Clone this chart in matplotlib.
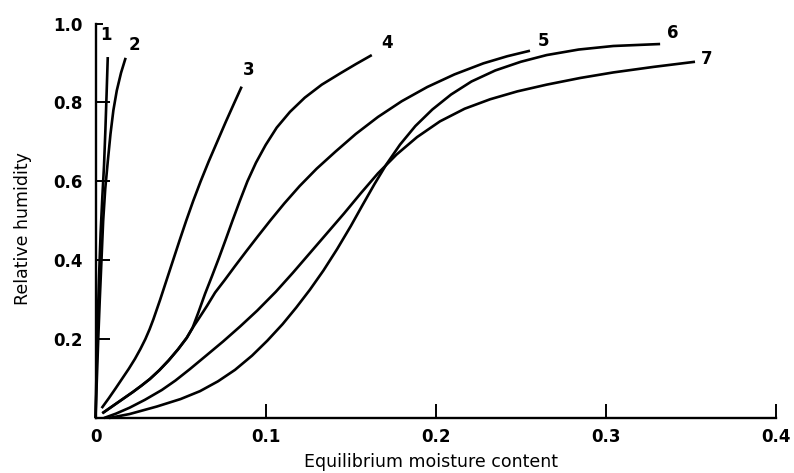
import matplotlib
matplotlib.use("Agg")
import matplotlib.pyplot as plt

# ---- data (equilibrium moisture content, relative humidity) ----
c1_x = [0.0, 0.0010, 0.0020, 0.0030, 0.0040, 0.0050, 0.0058, 0.0065, 0.0072]
c1_y = [0.0, 0.20, 0.35, 0.47, 0.56, 0.64, 0.73, 0.82, 0.915]

c2_x = [0.0, 0.0008, 0.0016, 0.0025, 0.0035, 0.0045, 0.0057, 0.0072, 0.0088,
        0.0105, 0.0125, 0.0150, 0.0177]
c2_y = [0.0, 0.10, 0.20, 0.30, 0.40, 0.50, 0.58, 0.65, 0.72,
        0.78, 0.83, 0.875, 0.913]

c3_x = [0.0036, 0.0078, 0.0118, 0.0157, 0.0196, 0.0232, 0.0264, 0.0293, 0.0318,
        0.0340, 0.0360, 0.0380, 0.0418, 0.0456, 0.0494, 0.0533, 0.0574, 0.0618,
        0.0665, 0.0715, 0.0765, 0.0817, 0.0859]
c3_y = [0.025, 0.050, 0.075, 0.100, 0.125, 0.150, 0.175, 0.200, 0.225,
        0.250, 0.275, 0.300, 0.350, 0.400, 0.450, 0.500, 0.550, 0.600,
        0.650, 0.700, 0.750, 0.800, 0.840]

c4_x = [0.0040, 0.0080, 0.0120, 0.0170, 0.0220, 0.0270, 0.0320, 0.0375, 0.0430,
        0.0485, 0.0536, 0.0570, 0.0605, 0.0644, 0.0685, 0.0725, 0.0765, 0.0805,
        0.0848, 0.0893, 0.0943, 0.1000, 0.1065, 0.1143, 0.1230, 0.1330, 0.1440,
        0.1530, 0.1624]
c4_y = [0.012, 0.024, 0.036, 0.051, 0.066, 0.082, 0.099, 0.121, 0.146,
        0.174, 0.203, 0.228, 0.268, 0.315, 0.360, 0.405, 0.452, 0.500,
        0.550, 0.600, 0.647, 0.692, 0.736, 0.776, 0.812, 0.845, 0.874,
        0.897, 0.920]

c5_x = [0.0040, 0.0080, 0.0120, 0.0170, 0.0220, 0.0270, 0.0320, 0.0375, 0.0430,
        0.0485, 0.0536, 0.0570, 0.0610, 0.0655, 0.0703, 0.0760, 0.0820, 0.0885,
        0.0955, 0.1030, 0.1110, 0.1200, 0.1300, 0.1410, 0.1530, 0.1660, 0.1800,
        0.1950, 0.2110, 0.2280, 0.2420, 0.2554]
c5_y = [0.012, 0.024, 0.036, 0.051, 0.066, 0.082, 0.099, 0.121, 0.146,
        0.174, 0.203, 0.228, 0.254, 0.284, 0.318, 0.350, 0.385, 0.422,
        0.461, 0.502, 0.544, 0.588, 0.632, 0.675, 0.720, 0.763, 0.803,
        0.839, 0.871, 0.899, 0.917, 0.931]

c6_x = [0.0080, 0.0200, 0.0360, 0.0500, 0.0614, 0.0720, 0.0820, 0.0920, 0.1010,
        0.1100, 0.1180, 0.1260, 0.1340, 0.1420, 0.1500, 0.1570, 0.1640, 0.1710,
        0.1790, 0.1880, 0.1980, 0.2090, 0.2210, 0.2350, 0.2500, 0.2652, 0.2840,
        0.3044, 0.3319]
c6_y = [0.000, 0.010, 0.029, 0.048, 0.068, 0.093, 0.122, 0.158, 0.196,
        0.238, 0.280, 0.325, 0.374, 0.428, 0.486, 0.540, 0.593, 0.643,
        0.693, 0.740, 0.782, 0.820, 0.853, 0.881, 0.903, 0.920, 0.934,
        0.943, 0.948]

c7_x = [0.0050, 0.0120, 0.0200, 0.0290, 0.0390, 0.0470, 0.0555, 0.0650, 0.0750,
        0.0850, 0.0950, 0.1060, 0.1160, 0.1260, 0.1360, 0.1460, 0.1560, 0.1660,
        0.1770, 0.1890, 0.2025, 0.2170, 0.2320, 0.2480, 0.2652, 0.2850, 0.3044,
        0.3280, 0.3524]
c7_y = [0.000, 0.011, 0.026, 0.046, 0.071, 0.095, 0.124, 0.158, 0.194,
        0.232, 0.272, 0.320, 0.368, 0.418, 0.468, 0.518, 0.570, 0.620,
        0.668, 0.712, 0.752, 0.784, 0.808, 0.828, 0.845, 0.862, 0.876,
        0.890, 0.903]

curve_labels = ["1", "2", "3", "4", "5", "6", "7"]
label_x = [0.0062, 0.0228, 0.0898, 0.1715, 0.2633, 0.3393, 0.3593]
label_y = [0.971, 0.946, 0.882, 0.950, 0.956, 0.975, 0.909]

x_ticks = [0.0, 0.1, 0.2, 0.3, 0.4]
x_ticklabels = ["0", "0.1", "0.2", "0.3", "0.4"]
y_ticks = [0.2, 0.4, 0.6, 0.8, 1.0]
y_ticklabels = ["0.2", "0.4", "0.6", "0.8", "1.0"]

x_label = "Equilibrium moisture content"
y_label = "Relative humidity"

# ---- drawing ----
plt.rcParams['font.family'] = ['DejaVu Sans']

fig = plt.figure(figsize=(7.94, 4.73), dpi=100)
ax = fig.add_axes([0.1203, 0.1163, 0.8570, 0.8340])

curves = [(c1_x, c1_y), (c2_x, c2_y), (c3_x, c3_y), (c4_x, c4_y),
          (c5_x, c5_y), (c6_x, c6_y), (c7_x, c7_y)]
for cx, cy in curves:
    ax.plot(cx, cy, color="black", lw=1.9, solid_capstyle="butt",
            solid_joinstyle="round", clip_on=False)

for t, lx, ly in zip(curve_labels, label_x, label_y):
    ax.text(lx, ly, t, ha="center", va="center", fontsize=12,
            fontweight="bold", color="black", clip_on=False)

ax.set_xlim(0, 0.4)
ax.set_ylim(0, 1.0)

for s in ["top", "right"]:
    ax.spines[s].set_visible(False)
for s in ["left", "bottom"]:
    ax.spines[s].set_linewidth(1.7)
    ax.spines[s].set_color("black")

ax.set_xticks(x_ticks)
ax.set_xticklabels(x_ticklabels, fontsize=12, fontweight="bold")
ax.set_yticks(y_ticks)
ax.set_yticklabels(y_ticklabels, fontsize=12, fontweight="bold")
ax.tick_params(axis="x", direction="in", length=10, width=1.4, pad=7)
ax.tick_params(axis="y", direction="in", length=10, width=1.4, pad=9)
ax.yaxis.get_major_ticks()[-1].tick1line.set_markersize(5)

ax.set_xlabel(x_label, fontsize=12.5)
ax.set_ylabel(y_label, fontsize=12.5)
ax.xaxis.set_label_coords(0.493, -0.088)
ax.yaxis.set_label_coords(-0.093, 0.48)

fig.savefig("out.png", dpi=100)
